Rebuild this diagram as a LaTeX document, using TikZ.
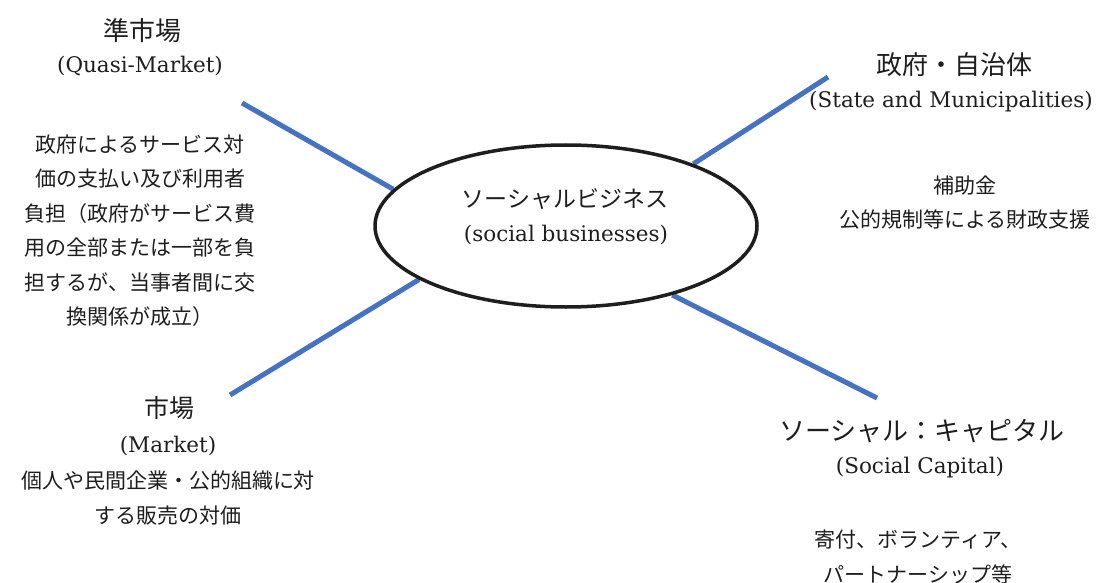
\documentclass[tikz,border=0pt]{standalone}
\usepackage{fontspec}
\newfontfamily\cjk{Noto Sans CJK JP}
\newfontfamily\lat{DejaVu Serif}
\usetikzlibrary{shapes.geometric,backgrounds}
\definecolor{spokeblue}{RGB}{68,114,196}
\definecolor{ink}{RGB}{30,30,30}
\definecolor{txt}{RGB}{30,30,30}
\begin{document}
\begin{tikzpicture}[x=1pt,y=-1pt,
  spoke/.style={draw=spokeblue, line width=5pt},
  ttl/.style={font=\cjk\fontsize{26}{30}\selectfont, text=txt, inner sep=0pt},
  en/.style={font=\lat\fontsize{21.5}{26}\selectfont, text=txt, inner sep=0pt},
  body/.style={font=\cjk\fontsize{21}{34.5}\selectfont, align=center, text=txt, inner sep=0pt},
]
\useasboundingbox (0,0) rectangle (1100,583);
\begin{pgfonlayer}{background}
\fill[white] (0,0) rectangle (1100,583);
\end{pgfonlayer}

% central ellipse
\node[ellipse, draw=ink, line width=3.5pt, minimum width=382pt, minimum height=162pt, inner sep=0pt, fill=white] (sb) at (566,226) {};
\node[font=\cjk\fontsize{23}{28}\selectfont, text=txt, inner sep=0pt] (sbJ) at (565,199) {ソーシャルビジネス};
\node[en] (sbE) at (566,235) {(social businesses)};

% spoke ends
\coordinate (qmEnd) at (242,103);
\coordinate (stEnd) at (828,77);
\coordinate (mkEnd) at (230,395);
\coordinate (scEnd) at (877,398);

\begin{pgfonlayer}{background}
\draw[spoke] (sb.168.9) -- (qmEnd);
\draw[spoke] (sb.26.4) -- (stEnd);
\draw[spoke] (sb.200.3) -- (mkEnd);
\draw[spoke] (sb.327.1) -- (scEnd);
\end{pgfonlayer}

% Quasi-market
\node[ttl] (qmT) at (142,31) {準市場};
\node[en] (qmE) at (140,66) {(Quasi-Market)};
\node[body] (qmB) at (140,230.5) {政府によるサービス対\\価の支払い及び利用者\\負担（政府がサービス費\\用の全部または一部を負\\担するが、当事者間に交\\換関係が成立）};

% State
\node[ttl] (stT) at (954,65) {政府・自治体};
\node[en] (stE) at (951,102) {(State and Municipalities)};
\node[body] (stB) at (965,202.5) {補助金\\公的規制等による財政支援};

% Market
\node[ttl, font=\cjk\fontsize{25}{30}\selectfont] (mkT) at (169,408) {市場};
\node[en] (mkE) at (168,446) {(Market)};
\node[body] (mkB) at (168,498) {個人や民間企業・公的組織に対\\する販売の対価};

% Social capital
\node[ttl] (scT) at (922,431) {ソーシャル：キャピタル};
\node[en] (scE) at (920,468) {(Social Capital)};
\node[body] (scB) at (918,557) {寄付、ボランティア、\\パートナーシップ等};
\end{tikzpicture}
\end{document}
